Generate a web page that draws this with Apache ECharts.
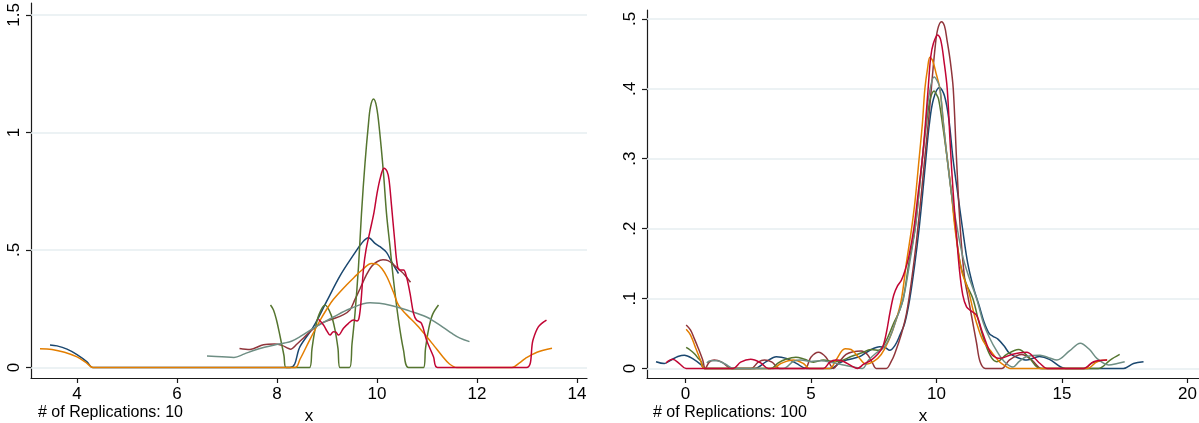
<!DOCTYPE html>
<html>
<head>
<meta charset="utf-8">
<script src="https://cdn.jsdelivr.net/npm/echarts@6/dist/echarts.min.js"></script>
<style>
html,body{margin:0;padding:0;background:#fff;}
#chart{width:1199px;height:423px;}
</style>
</head>
<body>
<div id="chart"></div>
<script>
// ---------- DATA ----------
// Panel 1: 10 replications (six estimated curves)
const rep10_1 = [[3.46,0.096],[3.6,0.092],[3.8,0.078],[4.0,0.055],[4.2,0.024],[4.31,0],[6.3,0],[8.26,0],[8.46,0.089],[8.73,0.174],[8.99,0.28],[9.26,0.39],[9.53,0.479],[9.69,0.528],[9.83,0.552],[9.96,0.528],[10.06,0.514],[10.19,0.49],[10.29,0.45],[10.43,0.4]];
const rep10_2 = [[7.25,0.081],[7.46,0.077],[7.73,0.097],[7.95,0.1],[8.1,0.094],[8.22,0.082],[8.27,0.078],[8.4,0.1],[8.55,0.13],[8.73,0.165],[8.9,0.19],[9.1,0.205],[9.33,0.225],[9.46,0.245],[9.56,0.29],[9.66,0.335],[9.79,0.395],[9.89,0.43],[10.0,0.45],[10.12,0.458],[10.22,0.455],[10.33,0.438],[10.45,0.415],[10.55,0.395],[10.67,0.363]];
const rep10_3 = [[7.87,0.266],[7.93,0.245],[7.99,0.202],[8.04,0.155],[8.09,0.103],[8.14,0.05],[8.18,0],[8.65,0],[8.7,0.08],[8.76,0.16],[8.84,0.225],[8.96,0.266],[9.08,0.225],[9.16,0.16],[9.22,0.08],[9.26,0],[9.45,0],[9.5,0.1],[9.56,0.23],[9.63,0.43],[9.69,0.656],[9.76,0.869],[9.83,1.039],[9.87,1.11],[9.93,1.142],[9.99,1.11],[10.05,1.01],[10.13,0.826],[10.19,0.656],[10.26,0.514],[10.33,0.372],[10.43,0.202],[10.53,0.074],[10.63,0],[10.93,0],[10.97,0.08],[11.03,0.16],[11.11,0.225],[11.23,0.266]];
const rep10_4 = [[3.26,0.08],[3.5,0.077],[3.75,0.065],[4.0,0.045],[4.2,0.018],[4.32,0],[6.3,0],[8.36,0],[8.46,0.035],[8.66,0.12],[8.86,0.2],[9.0,0.25],[9.13,0.29],[9.39,0.351],[9.55,0.385],[9.7,0.415],[9.89,0.443],[10.0,0.44],[10.1,0.42],[10.2,0.385],[10.33,0.32],[10.43,0.265],[10.59,0.225],[10.8,0.18],[11.0,0.13],[11.15,0.09],[11.3,0.05],[11.45,0.015],[11.6,0],[12.7,0],[12.85,0.02],[12.97,0.039],[13.2,0.065],[13.5,0.082]];
const rep10_5 = [[6.6,0.049],[6.9,0.046],[7.14,0.043],[7.35,0.058],[7.53,0.072],[7.75,0.086],[7.95,0.096],[8.15,0.104],[8.3,0.113],[8.46,0.131],[8.79,0.175],[9.13,0.215],[9.46,0.25],[9.86,0.275],[10.26,0.265],[10.66,0.24],[10.99,0.215],[11.15,0.195],[11.33,0.17],[11.5,0.145],[11.66,0.125],[11.85,0.11]];
const rep10_6 = [[8.83,0.205],[8.93,0.181],[9.0,0.155],[9.06,0.138],[9.13,0.152],[9.18,0.15],[9.23,0.138],[9.33,0.167],[9.43,0.188],[9.53,0.202],[9.6,0.198],[9.64,0.21],[9.68,0.28],[9.73,0.42],[9.78,0.5],[9.86,0.58],[9.94,0.66],[10.0,0.74],[10.07,0.81],[10.14,0.848],[10.2,0.835],[10.24,0.8],[10.29,0.69],[10.35,0.55],[10.41,0.43],[10.46,0.415],[10.53,0.415],[10.59,0.386],[10.66,0.316],[10.73,0.231],[10.79,0.202],[10.89,0.188],[10.99,0.117],[11.13,0.046],[11.21,0],[12.99,0],[13.12,0.117],[13.23,0.174],[13.39,0.202]];

// Panel 2: 100 replications
const rep100_1 = [[-1.17,0.0096],[-0.84,0.007],[-0.57,0.012],[-0.3,0.017],[-0.04,0.019],[0.29,0.014],[0.63,0.005],[0.76,0],[2.75,0],[3.22,0.0096],[3.62,0.0168],[4.02,0.0144],[4.42,0.0073],[4.82,0],[5.8,0],[6.15,0.008],[6.42,0.012],[6.95,0.017],[7.35,0.026],[7.74,0.031],[7.95,0.03],[8.14,0.026],[8.35,0.033],[8.55,0.048],[8.74,0.065],[8.94,0.1],[9.14,0.15],[9.31,0.2],[9.45,0.25],[9.58,0.3],[9.72,0.35],[9.88,0.385],[10.12,0.402],[10.32,0.39],[10.5,0.355],[10.66,0.3],[10.85,0.25],[11.04,0.2],[11.25,0.15],[11.48,0.115],[11.7,0.09],[11.9,0.066],[12.1,0.05],[12.25,0.046],[12.45,0.042],[12.7,0.032],[12.9,0.022],[13.2,0.016],[13.6,0.012],[14.1,0.017],[14.5,0.013],[14.95,0.002],[15.15,0],[17.45,0],[17.85,0.007],[18.25,0.0096]];
const rep100_2 = [[0.03,0.062],[0.2,0.055],[0.35,0.043],[0.5,0.03],[0.69,0.012],[0.79,0],[0.95,0.009],[1.15,0.012],[1.45,0.009],[1.85,0],[2.62,0],[2.9,0.009],[3.15,0.012],[3.45,0.009],[3.75,0],[4.75,0],[5.0,0.016],[5.3,0.023],[5.6,0.016],[5.9,0],[6.1,0.008],[6.4,0.02],[6.7,0.024],[7.0,0.025],[7.25,0.02],[7.45,0.008],[7.6,0],[8.0,0],[8.2,0.01],[8.34,0.021],[8.61,0.05],[8.81,0.079],[9.01,0.126],[9.21,0.184],[9.4,0.25],[9.56,0.31],[9.7,0.36],[9.82,0.41],[9.95,0.46],[10.05,0.485],[10.2,0.496],[10.32,0.49],[10.42,0.47],[10.55,0.44],[10.67,0.4],[10.8,0.3],[10.95,0.2],[11.12,0.13],[11.27,0.1],[11.4,0.075],[11.6,0.036],[11.74,0.0096],[11.95,0],[12.6,0],[12.9,0.012],[13.4,0.02],[13.8,0.012],[14.2,0],[15.9,0],[16.2,0.008],[16.6,0.011]];
const rep100_3 = [[0.03,0.03],[0.2,0.026],[0.36,0.021],[0.5,0.015],[0.63,0.0096],[0.76,0],[3.4,0],[3.7,0.008],[4.0,0.013],[4.4,0.016],[4.75,0.013],[5.1,0.009],[5.5,0.012],[5.9,0.01],[6.2,0.011],[6.6,0.017],[7.0,0.022],[7.4,0.027],[7.7,0.026],[8.0,0.04],[8.3,0.065],[8.5,0.08],[8.68,0.1],[8.9,0.15],[9.15,0.2],[9.3,0.25],[9.44,0.3],[9.6,0.35],[9.75,0.385],[9.91,0.397],[10.0,0.392],[10.08,0.386],[10.2,0.36],[10.43,0.3],[10.6,0.25],[10.76,0.2],[10.95,0.15],[11.2,0.12],[11.45,0.1],[11.7,0.065],[11.95,0.035],[12.2,0.015],[12.4,0.0096],[12.8,0.02],[13.27,0.027],[13.7,0.015],[14.13,0],[16.45,0],[16.92,0.012],[17.3,0.02]];
const rep100_4 = [[0.03,0.056],[0.2,0.048],[0.4,0.03],[0.6,0.012],[0.76,0],[3.5,0],[3.8,0.007],[4.3,0.012],[4.7,0.007],[4.95,0],[5.75,0],[6.0,0.012],[6.36,0.028],[6.6,0.027],[6.9,0.016],[7.2,0.006],[7.5,0.01],[7.8,0.02],[8.1,0.04],[8.4,0.07],[8.61,0.1],[8.8,0.15],[9.01,0.2],[9.15,0.24],[9.31,0.3],[9.44,0.35],[9.54,0.4],[9.65,0.43],[9.74,0.445],[9.85,0.44],[10.0,0.42],[10.14,0.4],[10.28,0.35],[10.43,0.3],[10.6,0.25],[10.74,0.2],[11.0,0.14],[11.27,0.112],[11.45,0.085],[11.6,0.065],[11.85,0.04],[12.14,0.026],[12.5,0.01],[12.8,0.002],[12.93,0],[16.0,0],[16.4,0.0096],[16.8,0.012]];
const rep100_5 = [[0.85,0.008],[1.0,0.011],[1.25,0.011],[1.6,0.006],[1.9,0],[3.9,0],[4.3,0.01],[4.6,0.012],[5.0,0.01],[5.4,0.011],[5.9,0.008],[6.3,0.005],[6.7,0.002],[7.05,0],[7.3,0.012],[7.6,0.022],[7.9,0.03],[8.15,0.045],[8.4,0.07],[8.68,0.1],[8.93,0.15],[9.15,0.2],[9.3,0.25],[9.44,0.3],[9.58,0.35],[9.7,0.39],[9.91,0.417],[10.05,0.41],[10.14,0.4],[10.28,0.35],[10.43,0.3],[10.6,0.25],[10.83,0.2],[11.05,0.16],[11.3,0.13],[11.6,0.1],[11.87,0.065],[12.1,0.045],[12.4,0.025],[12.7,0.01],[13.05,0.002],[13.3,0.01],[13.6,0.017],[14.13,0.019],[14.5,0.015],[14.8,0.012],[15.3,0.025],[15.73,0.036],[16.1,0.027],[16.4,0.014],[16.86,0.005],[17.2,0.007],[17.5,0.0096]];
const rep100_6 = [[-0.77,0.008],[-0.51,0.013],[-0.24,0.007],[0.03,0],[1.9,0],[2.2,0.009],[2.6,0.013],[3.0,0.008],[3.3,0],[5.5,0],[5.75,0.009],[6.0,0.012],[6.3,0.01],[6.6,0.004],[6.85,0],[7.1,0.006],[7.4,0.012],[7.65,0.02],[7.85,0.03],[8.0,0.05],[8.15,0.08],[8.3,0.105],[8.45,0.118],[8.6,0.126],[8.75,0.14],[8.9,0.16],[9.1,0.2],[9.27,0.25],[9.44,0.3],[9.56,0.35],[9.67,0.4],[9.77,0.445],[9.88,0.465],[10.05,0.477],[10.17,0.47],[10.3,0.44],[10.43,0.4],[10.55,0.32],[10.67,0.25],[10.8,0.19],[10.92,0.14],[11.05,0.105],[11.2,0.088],[11.35,0.083],[11.6,0.076],[11.8,0.055],[12.0,0.035],[12.2,0.02],[12.54,0.0144],[13.0,0.02],[13.6,0.023],[13.9,0.015],[14.13,0.007],[14.4,0],[15.86,0],[16.26,0.0096],[16.8,0.012]];

// Tick values and notes
const leftXTicks = [4, 6, 8, 10, 12, 14];
const leftYTicks = [0, 0.5, 1, 1.5];
const rightXTicks = [0, 5, 10, 15, 20];
const rightYTicks = [0, 0.1, 0.2, 0.3, 0.4, 0.5];
const notes = ['# of Replications: 10', '# of Replications: 100'];
const xTitle = 'x';

// ---------- STYLE / LAYOUT ----------
const FONT = '"Liberation Sans", Arial, Helvetica, sans-serif';
const COLORS = ['#1a476f', '#90353b', '#55752f', '#e37e00', '#6e8e84', '#c10534'];
const AXIS_COLOR = '#1a1a1a';
const GRID_COLOR = '#e6eef0';

function fmt(v) {
  const s = String(+Number(v).toFixed(3));
  return s.replace(/^0\./, '.').replace(/^-0\./, '-.');
}

function xAxisDef(gi, min, max, ticks) {
  return {
    type: 'value', gridIndex: gi, min: min, max: max,
    axisLine: { show: true, onZero: false, lineStyle: { color: AXIS_COLOR, width: 1.2 } },
    axisTick: { show: true, inside: false, length: 5, customValues: ticks, lineStyle: { color: AXIS_COLOR, width: 1.2 } },
    axisLabel: { show: true, customValues: ticks, formatter: fmt, color: '#000', fontSize: 17, fontFamily: FONT, margin: 8 },
    splitLine: { show: false },
    name: xTitle, nameLocation: 'middle', nameGap: 22,
    nameTextStyle: { color: '#000', fontSize: 17, fontFamily: FONT }
  };
}
function yAxisDef(gi, min, max, ticks) {
  return {
    type: 'value', gridIndex: gi, min: min, max: max,
    axisLine: { show: true, onZero: false, lineStyle: { color: AXIS_COLOR, width: 1.2 } },
    axisTick: { show: true, inside: false, length: 5, customValues: ticks, lineStyle: { color: AXIS_COLOR, width: 1.2 } },
    axisLabel: { show: true, customValues: ticks, formatter: fmt, rotate: 90, color: '#000', fontSize: 17, fontFamily: FONT, margin: 8 },
    splitLine: { show: false }
  };
}

function lineSeries(data, idx, gi) {
  return {
    type: 'line', data: data, xAxisIndex: gi, yAxisIndex: gi,
    showSymbol: false, symbol: 'none', smooth: 0.35,
    lineStyle: { color: COLORS[idx], width: 1.5 },
    itemStyle: { color: COLORS[idx] },
    z: 2 + idx * 0.01,
    emphasis: { disabled: true }, silent: true, animation: false
  };
}
function gridLines(ticks, gi) {
  return {
    type: 'line', data: [], xAxisIndex: gi, yAxisIndex: gi, silent: true,
    markLine: {
      silent: true, symbol: ['none', 'none'], z: 1, animation: false,
      label: { show: false }, emphasis: { disabled: true },
      lineStyle: { color: GRID_COLOR, width: 1.6, type: 'solid' },
      data: ticks.map(function (v) { return { yAxis: v }; })
    }
  };
}

const leftSets = [rep10_1, rep10_2, rep10_3, rep10_4, rep10_5, rep10_6];
const rightSets = [rep100_1, rep100_2, rep100_3, rep100_4, rep100_5, rep100_6];

const series = [];
series.push(gridLines(leftYTicks, 0));
series.push(gridLines(rightYTicks, 1));
leftSets.forEach(function (d, i) { series.push(lineSeries(d, i, 0)); });
rightSets.forEach(function (d, i) { series.push(lineSeries(d, i, 1)); });

const option = {
  backgroundColor: '#ffffff',
  animation: false,
  grid: [
    { left: 31, top: 3, width: 556, height: 375, containLabel: false, outerBoundsMode: 'none' },
    { left: 647, top: 10, width: 552, height: 368, containLabel: false, outerBoundsMode: 'none' }
  ],
  xAxis: [
    xAxisDef(0, 3.08, 14.2, leftXTicks),
    xAxisDef(1, -1.53, 20.46, rightXTicks)
  ],
  yAxis: [
    yAxisDef(0, -0.0447, 1.551, leftYTicks),
    yAxisDef(1, -0.0137, 0.5127, rightYTicks)
  ],
  graphic: [
    { type: 'text', left: 38, top: 405, silent: true,
      style: { text: notes[0], fill: '#000', fontSize: 16, fontFamily: FONT } },
    { type: 'text', left: 653, top: 405, silent: true,
      style: { text: notes[1], fill: '#000', fontSize: 16, fontFamily: FONT } }
  ],
  series: series
};

const chart = echarts.init(document.getElementById('chart'), null, { renderer: 'canvas' });
chart.setOption(option);
</script>
</body>
</html>
